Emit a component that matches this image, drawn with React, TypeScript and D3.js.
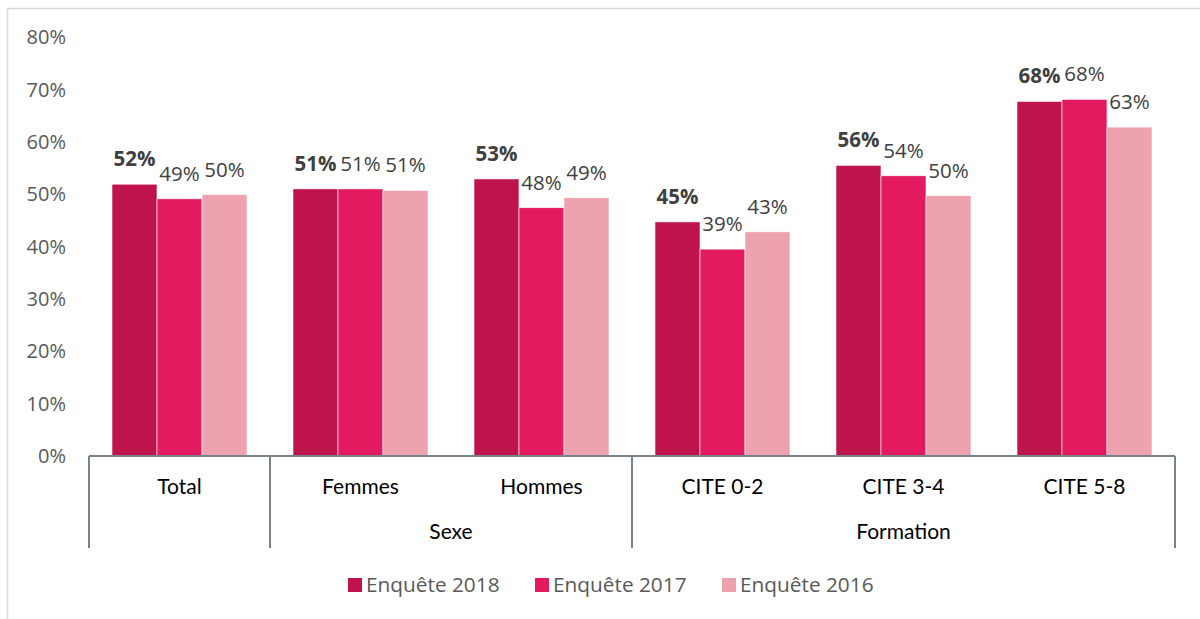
import React from "react";
import * as d3 from "d3";

const categories = ["Total", "Femmes", "Hommes", "CITE 0-2", "CITE 3-4", "CITE 5-8"];
const groups = [
  { label: "", from: 0, to: 0 },
  { label: "Sexe", from: 1, to: 2 },
  { label: "Formation", from: 3, to: 5 },
];
const seriesNames = ["Enquête 2018", "Enquête 2017", "Enquête 2016"];
const values2018 = [51.9, 51.0, 52.9, 44.7, 55.5, 67.7];
const values2017 = [49.1, 51.0, 47.4, 39.5, 53.5, 68.1];
const values2016 = [49.9, 50.7, 49.3, 42.8, 49.7, 62.8];
const labels2018 = ["52%", "51%", "53%", "45%", "56%", "68%"];
const labels2017 = ["49%", "51%", "48%", "39%", "54%", "68%"];
const labels2016 = ["50%", "51%", "49%", "43%", "50%", "63%"];
const yTicks = [0, 10, 20, 30, 40, 50, 60, 70, 80];

const colors = ["#BE144B", "#E31A5F", "#EEA2AE"];

export default function App() {
  const W = 1200, H = 619;
  const left = 89, right = 1175, top = 37, bottom = 456;
  const x0 = d3.scaleBand<string>().domain(categories).range([left, right]).padding(0);
  const bw = x0.bandwidth();
  const off = bw * 0.127;
  const x1 = d3.scaleBand<string>().domain(seriesNames).range([off, bw - off]).padding(0);
  const y = d3.scaleLinear().domain([0, 80]).range([bottom, top]);
  const series = [values2018, values2017, values2016];
  const labels = [labels2018, labels2017, labels2016];
  const dataFont = "'Open Sans', sans-serif";
  const catFont = "Lato, sans-serif";
  const axisColor = "#76828C";

  const boundaries = [0, 1, 3, 6].map((i) => (i < 6 ? (x0(categories[i]) as number) : right));

  const legendX = [348, 535, 722];

  return (
    <svg width={W} height={H} style={{ position: "absolute", left: 0, top: 0 }}>
      <rect x={0} y={0} width={W} height={H} fill="#fff" />
      <path d={`M7.5,${H} V8.5 H${W}`} fill="none" stroke="#D9D9D9" strokeWidth={1.5} />
      {yTicks.map((t) => (
        <text key={t} x={66} y={y(t)} dy="0.36em" textAnchor="end" fontFamily={dataFont} fontSize={20} fill="#595959">
          {t}%
        </text>
      ))}
      {categories.map((c, ci) =>
        series.map((vals, si) => {
          const xx = (x0(c) as number) + (x1(seriesNames[si]) as number);
          const w = x1.bandwidth();
          return (
            <g key={c + si}>
              <rect x={xx} y={y(vals[ci])} width={w} height={bottom - y(vals[ci])} fill={colors[si]} stroke="#fff" strokeWidth={0.6} />
              <text
                x={xx + w / 2}
                y={y(vals[ci]) - 18}
                textAnchor="middle"
                fontFamily={dataFont}
                fontSize={20.5}
                fontWeight={si === 0 ? 700 : 400}
                fill="#404040"
              >
                {labels[si][ci]}
              </text>
            </g>
          );
        })
      )}
      <line x1={left} x2={right} y1={bottom} y2={bottom} stroke={axisColor} strokeWidth={2} />
      {boundaries.map((bx, i) => (
        <line key={i} x1={bx} x2={bx} y1={bottom} y2={548} stroke={axisColor} strokeWidth={2} />
      ))}
      {categories.map((c) => (
        <text key={c} x={(x0(c) as number) + bw / 2} y={494} textAnchor="middle" fontFamily={catFont} fontSize={21} fill="#000">
          {c}
        </text>
      ))}
      {groups.map((g) => {
        const gx0 = x0(categories[g.from]) as number;
        const gx1 = (x0(categories[g.to]) as number) + bw;
        return (
          <text key={g.label} x={(gx0 + gx1) / 2} y={539} textAnchor="middle" fontFamily={catFont} fontSize={21} fill="#000">
            {g.label}
          </text>
        );
      })}
      {seriesNames.map((s, i) => (
        <g key={s}>
          <rect x={legendX[i]} y={578} width={14} height={14} fill={colors[i]} />
          <text x={legendX[i] + 18} y={592} fontFamily={dataFont} fontSize={20.8} fill="#595959">
            {s}
          </text>
        </g>
      ))}
    </svg>
  );
}
